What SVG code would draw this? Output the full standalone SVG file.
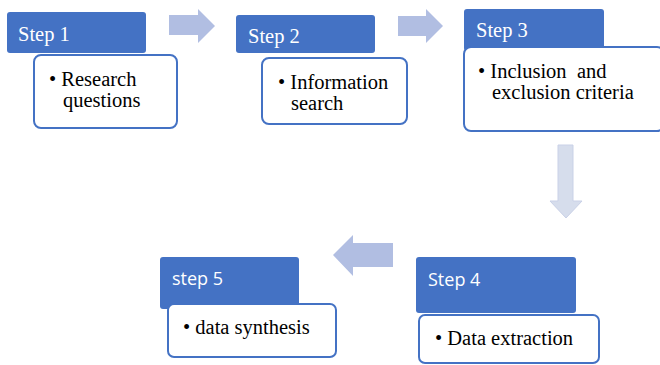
<svg xmlns="http://www.w3.org/2000/svg" width="660" height="365" viewBox="0 0 660 365">
<style>
.hdr{fill:#4472C4}
.body{fill:#FFFFFF;stroke:#4472C4;stroke-width:2}
.arr{fill:#B1BEE2}
.arrd{fill:#D6DDEC;stroke:#C9D1E7;stroke-width:1}
.ht{font-family:"Liberation Serif","Times New Roman",serif;font-size:20.5px;fill:#FFFFFF}
.hs{font-family:"Open Sans","Noto Sans",sans-serif;font-size:18px;fill:#FFFFFF}
.bt{font-family:"Liberation Serif","Times New Roman",serif;font-size:20.5px;fill:#000000}
</style>
<rect width="660" height="365" fill="#FFFFFF"/>
<g id="connectors">
<polygon class="arr" points="169,15 198,15 198,9 215,26 198,43 198,35 169,35"/>
<polygon class="arr" points="398,16 426,16 426,9 443,26 426,43 426,36 398,36"/>
<polygon class="arrd" points="558,145 573,145 573,201 582,201 566,218 550,201 558,201"/>
<polygon class="arr" points="393,243 353,243 353,235 333,255 353,276 353,267 393,267"/>
</g>
<g id="step1">
<rect class="hdr" x="7" y="12" width="139" height="41" rx="3"/>
<text class="ht" x="18" y="41">Step 1</text>
<rect class="body" x="34" y="55" width="143" height="73" rx="7"/>
<text class="bt" x="49" y="86">• Research</text>
<text class="bt" x="63" y="107">questions</text>
</g>
<g id="step2">
<rect class="hdr" x="236" y="15" width="139" height="38" rx="3"/>
<text class="ht" x="248" y="43">Step 2</text>
<rect class="body" x="262" y="58" width="145" height="66" rx="7"/>
<text class="bt" x="278" y="89">• Information</text>
<text class="bt" x="291" y="110">search</text>
</g>
<g id="step3">
<rect class="hdr" x="464" y="9" width="140" height="42" rx="3"/>
<text class="ht" x="476" y="37">Step 3</text>
<rect class="body" x="464" y="47" width="200" height="84" rx="7"/>
<text class="bt" x="478" y="78">• Inclusion<tspan x="577">and</tspan></text>
<text class="bt" x="492" y="99">exclusion criteria</text>
</g>
<g id="step4">
<rect class="hdr" x="416" y="257" width="160" height="56" rx="3"/>
<text class="hs" x="428" y="286">Step 4</text>
<rect class="body" x="419" y="315" width="180" height="48" rx="6"/>
<text class="bt" x="435" y="345">• Data extraction</text>
</g>
<g id="step5">
<rect class="hdr" x="160" y="257" width="139" height="52" rx="3"/>
<text class="hs" x="172" y="285">step 5</text>
<rect class="body" x="168" y="304" width="168" height="53" rx="6"/>
<text class="bt" x="183" y="334">• data synthesis</text>
</g>
</svg>
